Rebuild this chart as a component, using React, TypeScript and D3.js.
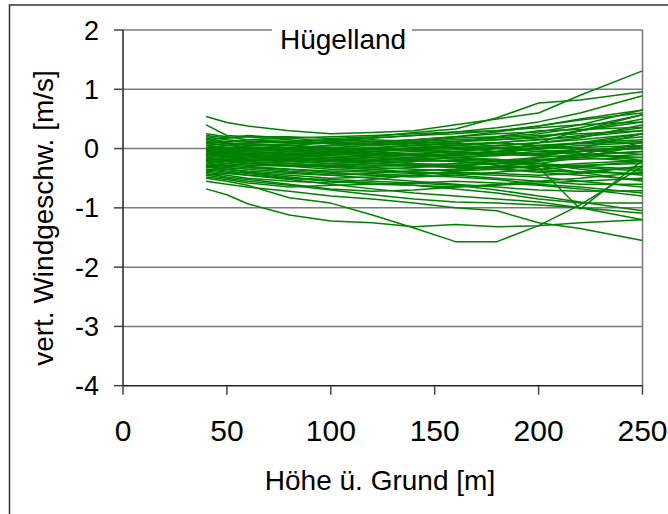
import React from "react";
import * as d3 from "d3";

// Heights above ground (m) at which each profile was sampled
const heights = [40, 50, 60, 80, 100, 120, 140, 160, 180, 200, 220, 250];

// Vertical wind speed profiles (m/s), one array per sounding
const profiles: number[][] = [
  [0.54, 0.44, 0.38, 0.30, 0.25, 0.27, 0.30, 0.40, 0.50, 0.60, 0.90, 1.31],
  [0.40, 0.22, 0.20, 0.20, 0.17, 0.20, 0.27, 0.33, 0.52, 0.77, 0.82, 0.96],
  [0.22, 0.18, 0.22, 0.18, 0.12, 0.18, 0.22, 0.28, 0.35, 0.45, 0.60, 0.89],
  [0.20, 0.15, 0.12, 0.10, 0.08, 0.10, 0.15, 0.20, 0.28, 0.38, 0.50, 0.65],
  [0.15, 0.12, 0.12, 0.12, 0.10, 0.08, 0.12, 0.18, 0.20, 0.25, 0.35, 0.57],
  [0.12, 0.10, 0.05, 0.05, 0.02, 0.05, 0.10, 0.12, 0.15, 0.18, 0.30, 0.45],
  [0.10, 0.05, 0.02, 0.00, 0.05, 0.08, 0.05, 0.10, 0.20, 0.30, 0.32, 0.36],
  [0.08, 0.05, 0.08, 0.06, 0.00, -0.02, 0.02, 0.05, 0.10, 0.15, 0.20, 0.30],
  [0.05, 0.00, -0.02, -0.05, -0.05, 0.00, 0.05, 0.08, 0.05, 0.10, 0.15, 0.25],
  [0.02, 0.02, 0.00, -0.02, -0.08, -0.05, -0.02, 0.00, 0.05, 0.02, 0.10, 0.20],
  [0.00, -0.03, -0.05, -0.08, -0.10, -0.08, -0.05, -0.02, 0.00, 0.05, 0.08, 0.12],
  [-0.02, -0.05, -0.08, -0.06, -0.05, -0.10, -0.12, -0.08, -0.05, 0.00, 0.02, 0.05],
  [-0.05, -0.08, -0.10, -0.12, -0.15, -0.12, -0.10, -0.05, -0.08, -0.12, -0.05, 0.00],
  [-0.05, -0.02, 0.00, 0.02, 0.05, 0.08, 0.12, 0.15, 0.18, 0.22, 0.25, 0.30],
  [-0.08, -0.10, -0.12, -0.15, -0.18, -0.20, -0.15, -0.10, -0.05, 0.00, 0.05, 0.10],
  [-0.10, -0.12, -0.15, -0.12, -0.10, -0.12, -0.15, -0.18, -0.20, -0.15, -0.10, -0.05],
  [-0.12, -0.10, -0.08, -0.10, -0.12, -0.15, -0.18, -0.22, -0.25, -0.20, -0.18, -0.15],
  [-0.12, -0.15, -0.18, -0.20, -0.22, -0.20, -0.18, -0.15, -0.12, -0.08, -0.05, 0.02],
  [-0.15, -0.18, -0.20, -0.18, -0.15, -0.12, -0.08, -0.05, 0.00, 0.05, 0.10, 0.15],
  [-0.15, -0.12, -0.10, -0.15, -0.20, -0.25, -0.28, -0.30, -0.32, -0.30, -0.28, -0.25],
  [-0.18, -0.20, -0.22, -0.25, -0.28, -0.30, -0.28, -0.25, -0.22, -0.18, -0.15, -0.10],
  [-0.20, -0.18, -0.15, -0.12, -0.10, -0.05, 0.00, 0.02, 0.05, 0.10, 0.18, 0.40],
  [-0.20, -0.22, -0.25, -0.28, -0.30, -0.32, -0.35, -0.38, -0.35, -0.30, -0.25, -0.20],
  [-0.22, -0.25, -0.28, -0.30, -0.28, -0.25, -0.22, -0.20, -0.22, -0.25, -0.30, -0.35],
  [-0.25, -0.28, -0.30, -0.35, -0.38, -0.40, -0.38, -0.35, -0.30, -0.25, -0.15, 0.05],
  [-0.25, -0.22, -0.20, -0.22, -0.25, -0.28, -0.30, -0.32, -0.35, -0.38, -0.40, -0.42],
  [-0.28, -0.30, -0.32, -0.38, -0.42, -0.45, -0.48, -0.45, -0.40, -0.35, -0.30, -0.22],
  [-0.30, -0.32, -0.35, -0.40, -0.45, -0.50, -0.55, -0.60, -0.65, -0.70, -0.72, -0.71],
  [-0.30, -0.35, -0.38, -0.42, -0.45, -0.42, -0.38, -0.35, -0.30, -0.22, -0.10, 0.10],
  [-0.32, -0.35, -0.40, -0.48, -0.55, -0.60, -0.62, -0.65, -0.62, -0.58, -0.55, -0.50],
  [-0.35, -0.38, -0.42, -0.50, -0.55, -0.58, -0.62, -0.68, -0.75, -0.85, -0.92, -0.92],
  [-0.38, -0.42, -0.45, -0.52, -0.60, -0.68, -0.75, -0.80, -0.85, -0.90, -1.00, -1.09],
  [-0.40, -0.45, -0.50, -0.55, -0.58, -0.52, -0.45, -0.38, -0.30, -0.32, -1.02, -0.20],
  [-0.45, -0.50, -0.55, -0.62, -0.70, -0.78, -0.85, -0.90, -0.92, -0.95, -1.00, -1.20],
  [-0.50, -0.55, -0.62, -0.83, -0.92, -1.12, -1.34, -1.57, -1.57, -1.30, -0.95, -0.30],
  [-0.68, -0.78, -0.93, -1.12, -1.22, -1.25, -1.32, -1.28, -1.32, -1.30, -1.25, -1.20],
  [-0.55, -0.60, -0.65, -0.72, -0.80, -0.85, -0.92, -1.00, -1.05, -1.25, -1.35, -1.55],
  [-0.48, -0.52, -0.58, -0.65, -0.62, -0.60, -0.58, -0.62, -0.70, -0.80, -0.90, -1.05],
  [-0.42, -0.48, -0.52, -0.60, -0.68, -0.72, -0.70, -0.65, -0.60, -0.55, -0.50, -0.40],
  [-0.35, -0.40, -0.45, -0.50, -0.52, -0.55, -0.58, -0.55, -0.58, -0.62, -0.68, -0.80],
  [0.05, 0.02, -0.05, -0.10, -0.15, -0.18, -0.15, -0.10, -0.05, 0.10, 0.30, 0.57],
  [-0.10, -0.05, 0.00, 0.05, 0.10, 0.12, 0.15, 0.20, 0.25, 0.28, 0.40, 0.65],
  [0.10, 0.12, 0.15, 0.18, 0.20, 0.22, 0.25, 0.28, 0.30, 0.35, 0.40, 0.45],
  [-0.18, -0.15, -0.12, -0.10, -0.08, -0.10, -0.12, -0.15, -0.18, -0.25, -0.35, -0.45],
  [-0.05, -0.08, -0.12, -0.18, -0.22, -0.25, -0.28, -0.30, -0.25, -0.15, 0.00, 0.25],
  [0.00, 0.05, 0.08, 0.05, 0.00, -0.05, -0.10, -0.15, -0.20, -0.30, -0.40, -0.55],
  [-0.22, -0.18, -0.15, -0.18, -0.20, -0.22, -0.20, -0.15, -0.10, -0.05, -0.02, 0.00],
  [-0.28, -0.25, -0.22, -0.25, -0.30, -0.35, -0.40, -0.42, -0.45, -0.48, -0.55, -0.65],
  [0.12, 0.08, 0.02, -0.02, -0.05, -0.02, 0.00, 0.02, 0.00, -0.05, -0.10, -0.15],
  [-0.15, -0.20, -0.25, -0.30, -0.35, -0.38, -0.40, -0.45, -0.50, -0.55, -0.60, -0.60],
  [0.18, 0.10, 0.05, 0.08, 0.12, 0.15, 0.12, 0.08, 0.10, 0.15, 0.22, 0.35],
  [-0.02, 0.00, 0.03, 0.00, -0.02, 0.02, 0.05, 0.02, -0.05, -0.10, -0.05, 0.05],
  [-0.08, -0.05, -0.02, -0.05, -0.08, -0.05, 0.00, 0.05, 0.10, 0.05, -0.02, -0.10],
  [-0.12, -0.08, -0.05, 0.00, -0.03, -0.08, -0.10, -0.12, -0.08, 0.00, 0.10, 0.25],
  [-0.18, -0.22, -0.25, -0.22, -0.18, -0.15, -0.18, -0.22, -0.28, -0.35, -0.40, -0.30],
  [-0.25, -0.20, -0.18, -0.15, -0.18, -0.20, -0.25, -0.28, -0.25, -0.20, -0.12, -0.05],
  [-0.32, -0.28, -0.25, -0.28, -0.32, -0.35, -0.32, -0.28, -0.25, -0.28, -0.32, -0.38],
  [-0.38, -0.35, -0.32, -0.35, -0.40, -0.45, -0.42, -0.40, -0.42, -0.45, -0.42, -0.30],
  [0.15, 0.18, 0.20, 0.15, 0.08, 0.05, 0.08, 0.12, 0.15, 0.20, 0.30, 0.50],
  [0.05, 0.08, 0.10, 0.12, 0.15, 0.12, 0.08, 0.05, 0.02, -0.02, -0.08, -0.20],
  [-0.03, -0.06, -0.05, -0.02, 0.02, 0.00, -0.03, -0.06, -0.10, -0.12, -0.15, -0.22],
  [-0.10, -0.14, -0.18, -0.22, -0.25, -0.22, -0.25, -0.30, -0.35, -0.40, -0.45, -0.52],
  [-0.45, -0.42, -0.40, -0.45, -0.50, -0.48, -0.45, -0.48, -0.52, -0.60, -0.65, -0.75],
  [0.25, 0.20, 0.15, 0.12, 0.15, 0.18, 0.22, 0.25, 0.30, 0.38, 0.48, 0.60],
];

const xTicks = [0, 50, 100, 150, 200, 250];
const yTicks = [2, 1, 0, -1, -2, -3, -4];

const title = "Hügelland";
const xTitle = "Höhe ü. Grund [m]";
const yTitle = "vert. Windgeschw. [m/s]";

const W = 668;
const H = 514;
const plot = { left: 123, right: 642.5, top: 30, bottom: 385.7 };
const font = "'Liberation Sans', Arial, sans-serif";
const green = "#008000";

export default function App() {
  const x = d3.scaleLinear().domain([0, 250]).range([plot.left, plot.right]);
  const y = d3.scaleLinear().domain([-4, 2]).range([plot.bottom, plot.top]);

  const line = d3
    .line<number>()
    .x((_, i) => x(heights[i]))
    .y((v) => y(v));

  return (
    <svg
      width={W}
      height={H}
      style={{ position: "absolute", left: 0, top: 0, background: "#fff" }}
      fontFamily={font}
    >
      <rect x={0} y={0} width={W} height={H} fill="#fff" />
      {/* outer chart frame */}
      <rect x={9.5} y={5} width={W + 20} height={H + 20} fill="none" stroke="#333" strokeWidth={1.5} />

      {/* horizontal gridlines */}
      {yTicks.slice(0, -1).map((t) => (
        <line key={"g" + t} x1={plot.left} x2={plot.right} y1={y(t)} y2={y(t)} stroke="#7a7a7a" strokeWidth={1.5} />
      ))}
      {/* right border of plot area */}
      <line x1={plot.right} x2={plot.right} y1={plot.top} y2={plot.bottom} stroke="#7a7a7a" strokeWidth={1.5} />

      {/* profiles */}
      <g fill="none" stroke={green} strokeWidth={1.5} strokeLinejoin="round">
        {profiles.map((p, i) => (
          <path key={i} d={line(p) || ""} />
        ))}
      </g>

      {/* axes */}
      <line x1={plot.left} x2={plot.left} y1={plot.top} y2={plot.bottom} stroke="#222" strokeWidth={1.5} />
      <line x1={plot.left} x2={plot.right} y1={plot.bottom} y2={plot.bottom} stroke="#222" strokeWidth={1.5} />
      {yTicks.map((t) => (
        <g key={"y" + t}>
          <line x1={plot.left - 9} x2={plot.left} y1={y(t)} y2={y(t)} stroke="#444" strokeWidth={1.5} />
          <text x={99} y={y(t) + 9.5} textAnchor="end" fontSize={27} fill="#000">
            {t}
          </text>
        </g>
      ))}
      {xTicks.map((t) => (
        <g key={"x" + t}>
          <line x1={x(t)} x2={x(t)} y1={plot.bottom} y2={plot.bottom + 9} stroke="#444" strokeWidth={1.5} />
          <text x={x(t)} y={441} textAnchor="middle" fontSize={30} fill="#000">
            {t}
          </text>
        </g>
      ))}

      {/* title box */}
      <rect x={272} y={16} width={140} height={40} fill="#fff" />
      <text x={280} y={49} fontSize={28} fill="#000">
        {title}
      </text>

      <text x={380} y={490} textAnchor="middle" fontSize={28} fill="#000">
        {xTitle}
      </text>
      <text transform="translate(53,218) rotate(-90)" textAnchor="middle" fontSize={28} fill="#000">
        {yTitle}
      </text>
    </svg>
  );
}
